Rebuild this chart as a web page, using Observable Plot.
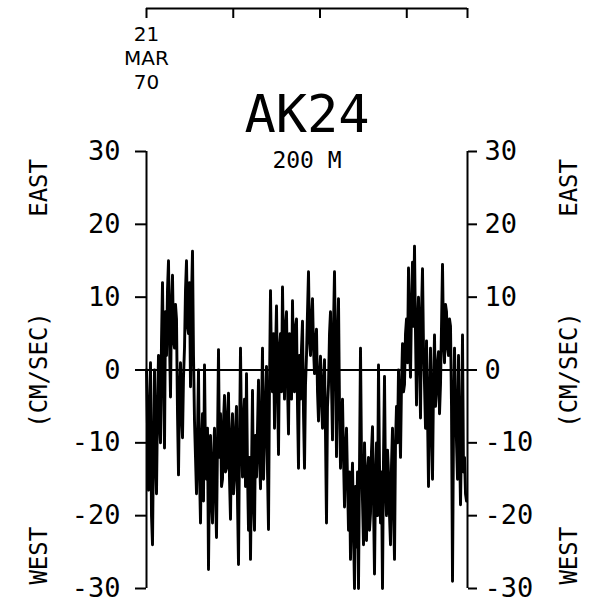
<!DOCTYPE html>
<html><head><meta charset="utf-8">
<script src="https://cdn.jsdelivr.net/npm/d3@7"></script>
<script src="https://cdn.jsdelivr.net/npm/@observablehq/plot@0.6"></script>
<style>body{margin:0;background:#fff;}</style>
</head><body><div id="chart"></div>
<script>
// ---- data ----
const stationName = "AK24";
const depthLabel = "200 M";
const startLabel = ["21", "MAR", "70"];
const sideLabels = ["EAST", "(CM/SEC)", "WEST"];
const yTicks = [-30, -20, -10, 0, 10, 20, 30];
const timeTicks = [0, 30, 60, 90];      // days after 21 MAR 70
const recordDays = 111;
const sampleDays = 0.3458;              // spacing of the digitised samples (days)
const eastVelocity = [
  0, -8, -16.5, -6, 1, -20, -24, -10, 0, -12,
  -17, -5, 2, -7, -10, 4, 12, 0, -10.7, 8,
  2, 11, 15, 4, -3.7, 9, 13, 4, 3, 9,
  7, -6, -14.4, -3, 1, -6, -9.3, -1, 3, 11,
  15, 6, 5, 12, -2.3, 10, 16.3, 2, -7, -12,
  -17, -9, 0, -14, -21, -10, -6, -18, 0.7, -12,
  -15, -8, -27.4, -14, -9, -18, -21, -12, -8, -17,
  -23, -10, 2.8, -12, -6, -16, -15, -7, -3.5, -14,
  -13.5, -6, -3.2, -15, -20.5, -9, -6, -17, -15, -8,
  -5, -18, -26.7, -10, 3, -9, -14.7, -7, -4, -16,
  -0.5, -14, -22, -12, -26, -14, -2.8, -18, -22, -9,
  -14.7, -8, -1.4, -12, -16.3, -6, 3, -15, -10, -4,
  0.5, -14, -21.9, -2, 10.9, 0, -3, 5, -8, 2,
  8.8, -2, -11.6, 3, 5, -3, 11.4, 2, -4, 6,
  8, -2, -8.8, 5, 4, -4, 9.5, 0, -3, 6,
  7, -5, -13.5, 2, -4, 3, 6.7, -6, -13.5, -2,
  2, 8, 13.5, 4, 2, 7, 9.8, 3, -0.5, 4,
  5.6, -3, -7, -1, 1.9, -4, -8, -2, 1.4, -9,
  -21, -5, -2, 5, 8, -2, -9.6, 6, 13.5, 2,
  -11.9, 4, 9.8, -5, -13.5, -7, -4, -12, -18.8, -11,
  -8, -15, -22, -14, -26, -18, -12.8, -22, -30, -16,
  -24.3, -14, -30, -13, 3, -12, -18, -24, -10, -16,
  -23.4, -14, -12, -22, -19.7, -11, -7.8, -18, -28, -15,
  -10, -20, 0.7, -13, -21, -14, -30, -12, -0.9, -16,
  -20, -11, -14, -20, -24, -13, -8, -19, -26, -10,
  -5, -10, 0, -6, -12, -2, 3.6, -3, -2, 5,
  7, 1, 14, 4, -1, 9, 14.8, 6, 17, 5,
  -4.8, 6, 10, 2, -6.6, 8, 13.9, 3, -2, -8,
  4, -6, -16, -4, 3, -8, -15, -2, 4.8, -5,
  -3, 1, 2.5, -6, -2, 6, 14.5, 4, 1, 9,
  8, 3, 2, 7, 6, -5, -29, -8, 3, -4,
  -10, -15, 2, -10, -18.5, -9, 4.8, -14, -12, -17,
  -18
];

// ---- layout ----
const W = 593, H = 613;
const mL = 146, mR = 126, mT = 151, mB = 25;
const font = "'DejaVu Sans Mono', monospace";
const pxPerUnit = (H - mT - mB) / 60;
const yAtPx = py => 30 + (mT - py) / pxPerUnit;   // y value at a pixel row above the frame

const series = eastVelocity.map((v, i) => ({day: i * sampleDays, v}));
const fmt = d => (d < 0 ? "-" + Math.abs(d) : String(d));
const sideY = [25, 0, -25.5];
const startRows = [34, 58, 82];   // pixel rows of the start-date lines

const chart = Plot.plot({
  width: W, height: H,
  marginLeft: mL, marginRight: mR, marginTop: mT, marginBottom: mB,
  x: {domain: [0, recordDays], axis: null},
  y: {domain: [-30, 30], axis: null},
  style: {background: "white", color: "black", fontFamily: font, overflow: "visible"},
  marks: [
    // top time axis
    Plot.ruleY([yAtPx(8)], {y: d => d, x1: () => 0, x2: () => recordDays, strokeWidth: 2}),
    Plot.ruleX(timeTicks.concat([recordDays]), {x: d => d, y1: () => yAtPx(8), y2: () => yAtPx(18), strokeWidth: 2}),
    Plot.text(startLabel, {x: () => 0, y: (d, i) => yAtPx(startRows[i]), text: d => d,
      fontSize: 20, fontFamily: "'DejaVu Sans', sans-serif", lineAnchor: "middle", textAnchor: "middle", fill: "black"}),
    // title + depth
    Plot.text([stationName], {frameAnchor: "top", dy: -36, fontSize: 52, lineAnchor: "middle", fill: "black"}),
    Plot.text([depthLabel], {frameAnchor: "top", dy: 9, fontSize: 23, lineAnchor: "middle", fill: "black"}),
    // frame sides
    Plot.ruleX([0, recordDays], {strokeWidth: 2}),
    Plot.ruleY([0], {strokeWidth: 2}),
    // y axes
    Plot.axisY(yTicks, {anchor: "left", tickSize: 11, tickPadding: 15, tickFormat: fmt,
      fontSize: 27, fontFamily: font, strokeWidth: 2, label: null, fill: "black"}),
    Plot.axisY(yTicks, {anchor: "right", tickSize: 9, tickPadding: 8, tickFormat: fmt,
      fontSize: 27, fontFamily: font, strokeWidth: 2, label: null, fill: "black"}),
    // data
    Plot.line(series, {x: "day", y: "v", stroke: "black", strokeWidth: 2.9}),
    // side labels
    Plot.text(sideLabels, {frameAnchor: "left", dx: -107, y: (d, i) => sideY[i], text: d => d,
      rotate: -90, fontSize: 24, textAnchor: "middle", lineAnchor: "middle", fill: "black"}),
    Plot.text(sideLabels, {frameAnchor: "right", dx: 102, y: (d, i) => sideY[i], text: d => d,
      rotate: -90, fontSize: 24, textAnchor: "middle", lineAnchor: "middle", fill: "black"})
  ]
});
document.getElementById("chart").appendChild(chart);
</script>
</body></html>
